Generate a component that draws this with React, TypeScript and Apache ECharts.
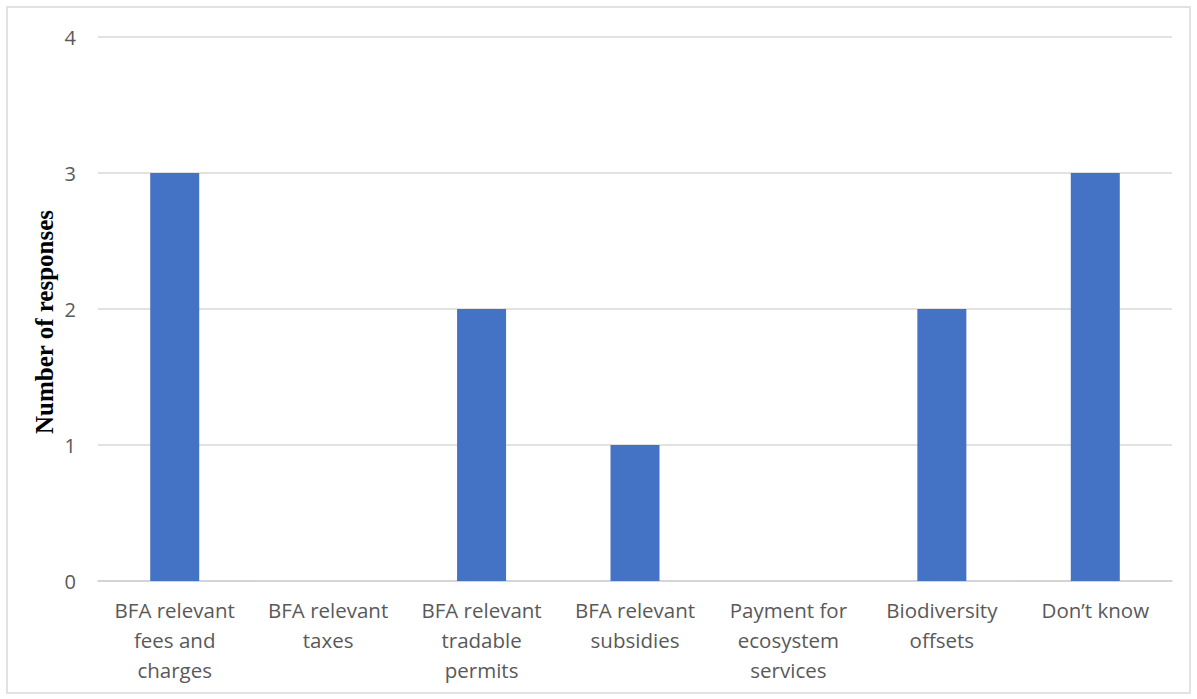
import React, { useEffect, useRef } from "react";
import * as echarts from "echarts";

const categories = [
  "BFA relevant\nfees and\ncharges",
  "BFA relevant\ntaxes",
  "BFA relevant\ntradable\npermits",
  "BFA relevant\nsubsidies",
  "Payment for\necosystem\nservices",
  "Biodiversity\noffsets",
  "Don’t know",
];
const responses = [3, 0, 2, 1, 0, 2, 3];
const yTicks = { min: 0, max: 4, interval: 1 };
const yTitle = "Number of responses";

export default function App() {
  const ref = useRef<HTMLDivElement>(null);

  useEffect(() => {
    document.body.style.margin = "0";
    if (!ref.current) return;
    const chart = echarts.init(ref.current, null, { renderer: "svg" });
    const labelFont = "'Open Sans', 'Noto Sans', sans-serif";
    chart.setOption({
      animation: false,
      backgroundColor: "#ffffff",
      grid: { left: 98, right: 25, top: 37, bottom: 118, containLabel: false },
      xAxis: {
        type: "category",
        data: categories,
        axisLine: { show: true, lineStyle: { color: "#d0d0d0", width: 1.5 } },
        axisTick: { show: false },
        axisLabel: {
          color: "#595959",
          fontFamily: labelFont,
          fontSize: 20.5,
          lineHeight: 30,
          margin: 14,
          interval: 0,
        },
      },
      yAxis: {
        type: "value",
        min: yTicks.min,
        max: yTicks.max,
        interval: yTicks.interval,
        axisLine: { show: false },
        axisTick: { show: false },
        splitLine: { lineStyle: { color: "#d9d9d9", width: 1.5 } },
        axisLabel: {
          color: "#595959",
          fontFamily: labelFont,
          fontSize: 20,
          margin: 22,
        },
      },
      graphic: [
        {
          type: "rect",
          shape: { x: 7, y: 7, width: 1183, height: 686 },
          style: { fill: "none", stroke: "#d9d9d9", lineWidth: 1.5 },
          silent: true,
        },
        {
          type: "text",
          x: 44,
          y: 322,
          rotation: Math.PI / 2,
          style: {
            text: yTitle,
            fill: "#000000",
            font: "bold 25px 'Liberation Serif', 'Times New Roman', serif",
            textAlign: "center",
            textVerticalAlign: "middle",
          },
        },
      ],
      series: [
        {
          type: "bar",
          data: responses,
          barWidth: 49,
          itemStyle: { color: "#4472c4" },
        },
      ],
    });
    return () => chart.dispose();
  }, []);

  return <div ref={ref} style={{ width: 1197, height: 699 }} />;
}
